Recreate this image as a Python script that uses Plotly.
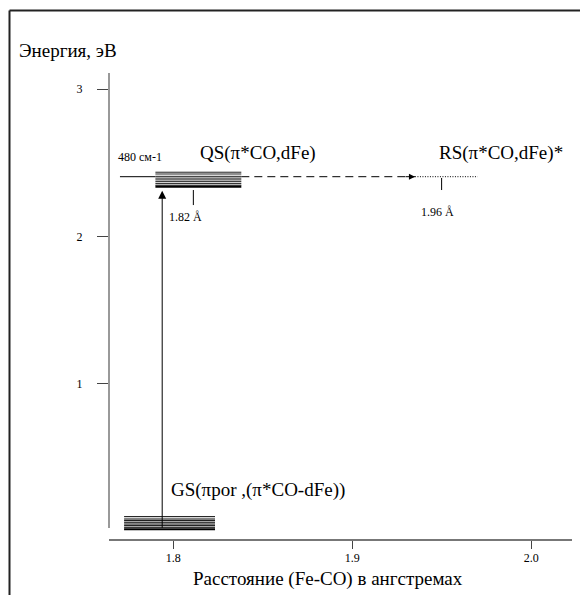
import plotly.graph_objects as go

# ---------------- data ----------------
# quasi-stationary (QS) vibrational levels, eV, spanning Fe-CO distance range (Å)
qs_x_range = [1.790, 1.838]
qs_levels = [2.436, 2.424, 2.408, 2.396, 2.384, 2.372, 2.360, 2.348, 2.338]

# ground state (GS) vibrational levels
gs_x_range = [1.7725, 1.8233]
gs_levels = [0.096, 0.080, 0.069, 0.058, 0.046, 0.035, 0.024, 0.010]

# 480 cm-1 reference line and transfer to RS
transfer_energy = 2.4056
ref_line_x = [1.7702, 1.790]
dashed_x = [1.838, 1.935]
dotted_x = [1.935, 1.970]

# vertical excitation
excite_x = 1.7938
excite_from = 0.010
excite_to = 2.310

# distance markers
mark_182_x = 1.8112
mark_182_y = [2.315, 2.213]
mark_196_x = 1.9499
mark_196_y = [2.397, 2.315]

x_tickvals = [1.8, 1.9, 2.0]
x_ticktext = ["1.8", "1.9", "2.0"]
y_tickvals = [1, 2, 3]
y_ticktext = ["1", "2", "3"]

FONT = "Liberation Serif"


def seg_trace(xr, levels):
    xs, ys = [], []
    for v in levels:
        xs += [xr[0], xr[1], None]
        ys += [v, v, None]
    return xs, ys


fig = go.Figure()

qx, qy = seg_trace(qs_x_range, qs_levels[:-1])
fig.add_trace(go.Scatter(x=qx, y=qy, mode="lines",
                         line=dict(color="#222", width=1), hoverinfo="skip"))
fig.add_trace(go.Scatter(x=qs_x_range, y=[qs_levels[-1]] * 2, mode="lines",
                         line=dict(color="#000", width=2.2), hoverinfo="skip"))

gx, gy = seg_trace(gs_x_range, gs_levels[:-1])
fig.add_trace(go.Scatter(x=gx, y=gy, mode="lines",
                         line=dict(color="#000", width=1), hoverinfo="skip"))
fig.add_trace(go.Scatter(x=gs_x_range, y=[gs_levels[-1]] * 2, mode="lines",
                         line=dict(color="#000", width=2), hoverinfo="skip"))

fig.add_trace(go.Scatter(x=ref_line_x, y=[transfer_energy] * 2, mode="lines",
                         line=dict(color="#000", width=1), hoverinfo="skip"))
fig.add_trace(go.Scatter(x=dashed_x, y=[transfer_energy] * 2, mode="lines",
                         line=dict(color="#000", width=1, dash="8px,5px"),
                         hoverinfo="skip"))
fig.add_trace(go.Scatter(x=dotted_x, y=[transfer_energy] * 2, mode="lines",
                         line=dict(color="#000", width=1, dash="1px,1.5px"),
                         hoverinfo="skip"))

fig.add_trace(go.Scatter(x=[mark_182_x, mark_182_x], y=mark_182_y, mode="lines",
                         line=dict(color="#000", width=1), hoverinfo="skip"))
fig.add_trace(go.Scatter(x=[mark_196_x, mark_196_x], y=mark_196_y, mode="lines",
                         line=dict(color="#000", width=1), hoverinfo="skip"))

# excitation arrow
fig.add_annotation(x=excite_x, y=excite_to, ax=excite_x, ay=excite_from,
                   xref="x", yref="y", axref="x", ayref="y", text="",
                   showarrow=True, arrowhead=2, arrowsize=1.6, arrowwidth=1,
                   arrowcolor="#000")
# arrowhead at end of dashed transfer
fig.add_annotation(x=dashed_x[1], y=transfer_energy, ax=dashed_x[1] - 0.006,
                   ay=transfer_energy, xref="x", yref="y", axref="x", ayref="y",
                   text="", showarrow=True, arrowhead=2, arrowsize=1.2,
                   arrowwidth=1, arrowcolor="#000")

big = dict(family=FONT, size=19, color="#000")
small = dict(family=FONT, size=12, color="#000")

fig.add_annotation(x=1.8139, y=2.567, text="QS(π*CO,dFe)", showarrow=False,
                   xanchor="left", yanchor="middle", font=big)
fig.add_annotation(x=1.9473, y=2.567, text="RS(π*CO,dFe)*", showarrow=False,
                   xanchor="left", yanchor="middle", font=big)
fig.add_annotation(x=1.7680, y=2.539, text="480 см-1", showarrow=False,
                   xanchor="left", yanchor="middle", font=small)
fig.add_annotation(x=1.8068, y=2.132, text="1.82 Å", showarrow=False,
                   xanchor="center", yanchor="middle", font=small)
fig.add_annotation(x=1.9476, y=2.166, text="1.96 Å", showarrow=False,
                   xanchor="center", yanchor="middle", font=small)
fig.add_annotation(x=1.7976, y=0.277, text="GS(πpor ,(π*CO-dFe))",
                   showarrow=False, xanchor="left", yanchor="middle", font=big)

# page body has an 8px margin: figure origin sits at (8, 8) of the window
OFF = 8
W, H = 588, 595
L, R, T, B = 109, 572, 73, 539  # plot area in window pixels


def px(xp):
    return (xp - L) / (R - L)


def py(yp):
    return (B - yp) / (B - T)


fig.add_annotation(x=px(17), y=py(51), xref="paper", yref="paper",
                   text="Энергия, эВ", showarrow=False, xanchor="left",
                   yanchor="middle", font=big)
fig.add_annotation(x=px(328), y=py(579), xref="paper", yref="paper",
                   text="Расстояние (Fe-CO) в ангстремах", showarrow=False,
                   xanchor="center", yanchor="middle", font=big)

# y-axis line (stops short of x-axis, as in the original)
fig.add_shape(type="line", xref="paper", yref="paper", x0=0, x1=0,
              y0=py(528), y1=1, line=dict(color="#777", width=1.5))
# outer frame (left and top)
fig.add_shape(type="line", xref="paper", yref="paper", x0=px(9.5), x1=px(9.5),
              y0=py(610), y1=py(10.5), line=dict(color="#222", width=2))
fig.add_shape(type="line", xref="paper", yref="paper", x0=px(9.5), x1=px(610),
              y0=py(10.5), y1=py(10.5), line=dict(color="#222", width=2))

x_lo = 1.8 - (173.3 - L) / 1790
x_hi = 1.8 + (R - 173.3) / 1790
y_hi = 2 + (236.4 - T) / 147.2
y_lo = 2 + (236.4 - B) / 147.2

fig.update_layout(
    width=W, height=H,
    margin=dict(l=L - OFF, r=W - (R - OFF), t=T - OFF, b=H - (B - OFF), pad=0),
    paper_bgcolor="white", plot_bgcolor="white",
    showlegend=False,
    font=dict(family=FONT, color="#000"),
    xaxis=dict(range=[x_lo, x_hi], tickvals=x_tickvals, ticktext=x_ticktext,
               showline=True, linecolor="#777", linewidth=1.5,
               ticks="outside", ticklen=8, tickwidth=1.2, tickcolor="#444",
               showgrid=False, zeroline=False, ticklabelstandoff=-1,
               tickfont=dict(family=FONT, size=12, color="#000"),
               fixedrange=True),
    yaxis=dict(range=[y_lo, y_hi], tickvals=y_tickvals, ticktext=y_ticktext,
               showline=False, ticks="outside", ticklen=11, tickwidth=1.2,
               tickcolor="#444", showgrid=False, zeroline=False,
               ticklabelstandoff=12,
               tickfont=dict(family=FONT, size=12, color="#000"),
               fixedrange=True),
)

fig.write_html("out.html")
